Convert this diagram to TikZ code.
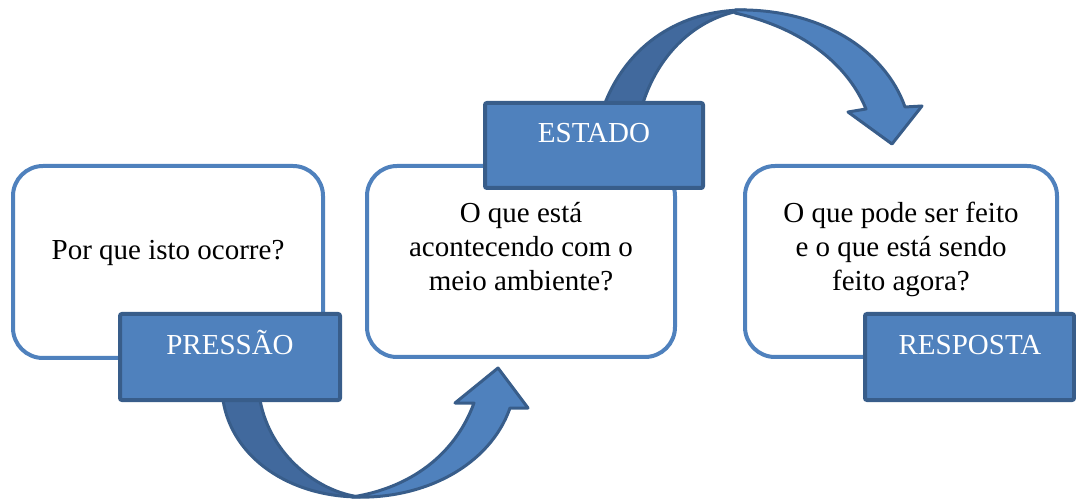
\documentclass[tikz,border=0pt]{standalone}
\usepackage{fontspec}
\setmainfont{Liberation Serif}
\definecolor{acc}{HTML}{4F81BD}
\definecolor{accdark}{HTML}{385D8A}
\definecolor{accback}{HTML}{41699D}
\begin{document}
\begin{tikzpicture}[x=1pt,y=-1pt,
  roundbox/.style={draw=acc,line width=4pt,fill=white,rounded corners=30pt},
  labelbox/.style={draw=accdark,line width=4pt,fill=acc,rounded corners=2pt},
  bodytext/.style={font=\fontsize{29}{34}\selectfont,align=center,anchor=base,inner sep=0pt},
  labeltext/.style={font=\fontsize{29}{34}\selectfont,text=white,anchor=base,inner sep=0pt},
  arrowback/.style={draw=accdark,line width=3pt,fill=accback,line join=round},
  arrowfront/.style={draw=accdark,line width=3pt,fill=acc,line join=round}]
\useasboundingbox (0,0) rectangle (1076,502);
% rounded boxes
\draw[roundbox] (13,166) rectangle (323,358);
\draw[roundbox] (367,166) rectangle (675,357);
\draw[roundbox] (745,166) rectangle (1057,357);
\node[bodytext] (t1) at (168,260) {Por que isto ocorre?};
\node[bodytext] (t2) at (521,291) {O que está\\acontecendo com o\\meio ambiente?};
\node[bodytext] (t3) at (901,291) {O que pode ser feito\\e o que está sendo\\feito agora?};
% bottom arrow
\draw[arrowback] (223,400) .. controls (232,458) and (290,497) .. (360,497)
  .. controls (318,492) and (270,455) .. (260,400) -- cycle;
\draw[arrowfront] (352,497) .. controls (425,500) and (490,465) .. (510,408)
  -- (528,408) -- (498,368) -- (455,403) -- (474,403)
  .. controls (455,455) and (410,488) .. (352,497) -- cycle;
% top arrow
\draw[arrowback] (605,103) .. controls (628,45) and (680,10) .. (745,10)
  .. controls (700,16) and (660,50) .. (643,103) -- cycle;
\draw[arrowfront] (735,10) .. controls (820,8) and (885,50) .. (905,107)
  -- (922,106) -- (892,144) -- (848,112) -- (866,109)
  .. controls (850,70) and (810,30) .. (735,13) -- cycle;
% label boxes
\draw[labelbox] (120,314) rectangle (340,400);
\draw[labelbox] (485,103) rectangle (703,188);
\draw[labelbox] (865,314) rectangle (1074,400);
\node[labeltext] (l1) at (230,355) {PRESSÃO};
\node[labeltext] (l2) at (594,143) {ESTADO};
\node[labeltext] (l3) at (970,355) {RESPOSTA};
\end{tikzpicture}
\end{document}
